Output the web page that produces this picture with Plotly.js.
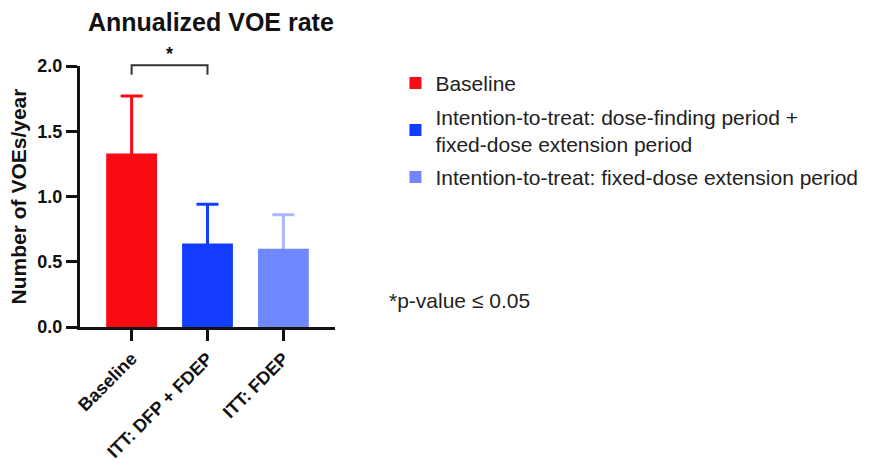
<!DOCTYPE html>
<html>
<head>
<meta charset="utf-8">
<script src="https://cdn.plot.ly/plotly-3.0.1.min.js"></script>
<style>html,body{margin:0;padding:0;background:#fff;}#chart{width:875px;height:466px;}</style>
</head>
<body>
<div id="chart"></div>
<script>
// Data
const categories = ["Baseline", "ITT: DFP + FDEP", "ITT: FDEP"];
const seriesNames = [
  "Baseline",
  "Intention-to-treat: dose-finding period +<br>fixed-dose extension period",
  "Intention-to-treat: fixed-dose extension period"
];
const rates = [1.33, 0.64, 0.60];
const errorsUp = [0.44, 0.30, 0.26];
const yTickVals = [0, 0.5, 1.0, 1.5, 2.0];
const yTickText = ["0.0", "0.5", "1.0", "1.5", "2.0"];

const barColors = ["#fa0a14", "#123cff", "#6f88ff"];
const errColors = ["#fa0a14", "#123cff", "#a8b8ff"];
const FONT = "Liberation Sans, Arial, Helvetica, sans-serif";
const hide = 0.02; // lower cap of the error bar tucked under the bar

// error-bar carriers first (drawn underneath), then the visible bars
const errTraces = categories.map((c, i) => ({
  type: "bar",
  x: [c],
  y: [rates[i] - hide],
  width: 0.67,
  showlegend: false,
  hoverinfo: "skip",
  marker: {color: "rgba(0,0,0,0)", line: {width: 0}},
  error_y: {type: "data", symmetric: false, array: [errorsUp[i] + hide], arrayminus: [0],
            color: errColors[i], thickness: 3, width: 11}
}));
const barTraces = categories.map((c, i) => ({
  type: "bar",
  x: [c],
  y: [rates[i]],
  name: seriesNames[i],
  legendgroup: "g" + i,
  width: 0.67,
  marker: {color: barColors[i], line: {width: 0}},
  hoverinfo: "x+y"
}));

const layout = {
  width: 875, height: 466,
  margin: {l: 80, r: 533, t: 66, b: 139, pad: 0},
  paper_bgcolor: "#fff", plot_bgcolor: "#fff",
  font: {family: FONT, color: "#111"},
  barmode: "overlay",
  showlegend: true,
  title: {text: "<b>Annualized VOE rate</b>", font: {family: FONT, size: 25, color: "#111"},
          xref: "container", x: 0.241, xanchor: "center", yref: "container", y: 0.952, yanchor: "middle"},
  xaxis: {
    type: "category", range: [-0.68, 2.68],
    showline: true, linecolor: "#111", linewidth: 3,
    ticks: "outside", ticklen: 11, tickwidth: 3, tickcolor: "#111",
    tickangle: -45, tickfont: {family: FONT, size: 18, color: "#111", weight: "bold"},
    showgrid: false, zeroline: false, fixedrange: true
  },
  yaxis: {
    range: [0, 2.0],
    tickvals: yTickVals, ticktext: yTickText,
    showline: true, linecolor: "#111", linewidth: 3,
    ticks: "outside", ticklen: 11, tickwidth: 3, tickcolor: "#111",
    tickfont: {family: FONT, size: 18, color: "#111", weight: "bold"},
    showgrid: false, zeroline: false, fixedrange: true,
    title: {text: "<b>Number of VOEs/year</b>", font: {family: FONT, size: 21, color: "#111"}, standoff: 6}
  },
  legend: {
    x: 1.237, xanchor: "left", y: 1.012, yanchor: "top",
    font: {family: FONT, size: 21, color: "#222"},
    traceorder: "grouped", tracegroupgap: 3,
    bgcolor: "rgba(0,0,0,0)", borderwidth: 0
  },
  shapes: [
    {type: "path", xref: "x", yref: "paper",
     path: "M 0,0.966 L 0,1.003 L 1,1.003 L 1,0.966",
     line: {color: "#333", width: 2}}
  ],
  annotations: [
    {text: "<b>*</b>", xref: "x", yref: "paper", x: 0.5, y: 1.045, showarrow: false,
     font: {family: FONT, size: 18, color: "#111"}, xanchor: "center", yanchor: "middle"},
    {text: "*p-value ≤ 0.05", xref: "paper", yref: "paper", x: 1.202, y: 0.103, showarrow: false,
     font: {family: FONT, size: 21, color: "#222"}, xanchor: "left", yanchor: "middle"}
  ]
};

Plotly.newPlot("chart", errTraces.concat(barTraces), layout, {displayModeBar: false, staticPlot: true});
</script>
</body>
</html>
